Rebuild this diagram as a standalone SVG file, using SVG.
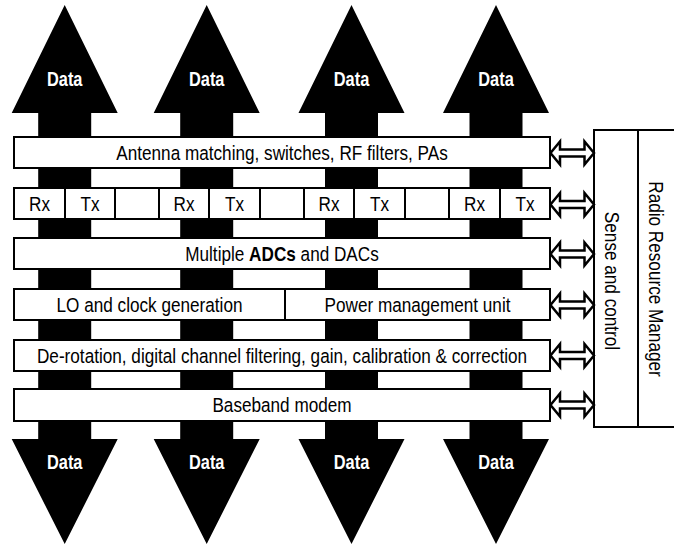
<svg xmlns="http://www.w3.org/2000/svg" width="674" height="547" viewBox="0 0 674 547">
<style>
.box{fill:#fff;stroke:#000;stroke-width:2}
.t{font-family:"Liberation Sans",Arial,sans-serif;font-size:19.5px;fill:#000;text-anchor:middle}
.d{font-family:"Liberation Sans",Arial,sans-serif;font-size:20px;font-weight:bold;fill:#fff;text-anchor:middle}
.big{fill:#000}
.dbl{fill:#fff;stroke:#000;stroke-width:2.5;stroke-linejoin:miter}
</style>
<defs>
<path id="bigarrow" d="M0,5 L53,113 L26.5,113 L26.5,439 L53,439 L0,544 L-53,439 L-26.5,439 L-26.5,113 L-53,113 Z"/>
<path id="dblarrow" d="M550.5,0 L560,-11.5 L560,-3.5 L584.5,-3.5 L584.5,-11.5 L594,0 L584.5,11.5 L584.5,3.5 L560,3.5 L560,11.5 Z"/>
</defs>
<g id="data-arrows" class="big">
<g id="data1"><use href="#bigarrow" x="64.7"/><text class="d" transform="translate(64.7,86) scale(0.82,1)">Data</text><text class="d" transform="translate(64.7,469) scale(0.82,1)">Data</text></g>
<g id="data2"><use href="#bigarrow" x="206.7"/><text class="d" transform="translate(206.7,86) scale(0.82,1)">Data</text><text class="d" transform="translate(206.7,469) scale(0.82,1)">Data</text></g>
<g id="data3"><use href="#bigarrow" x="351.5"/><text class="d" transform="translate(351.5,86) scale(0.82,1)">Data</text><text class="d" transform="translate(351.5,469) scale(0.82,1)">Data</text></g>
<g id="data4"><use href="#bigarrow" x="496"/><text class="d" transform="translate(496,86) scale(0.82,1)">Data</text><text class="d" transform="translate(496,469) scale(0.82,1)">Data</text></g>
</g>
<g id="antenna"><rect class="box" x="14" y="137" width="536" height="31"/><text class="t" transform="translate(282,160) scale(0.88,1)">Antenna matching, switches, RF filters, PAs</text></g>
<g id="rxtx">
<rect class="box" x="14" y="188" width="51" height="31"/><text class="t" transform="translate(39.5,210.5) scale(0.88,1)">Rx</text>
<rect class="box" x="65" y="188" width="50" height="31"/><text class="t" transform="translate(90,210.5) scale(0.88,1)">Tx</text>
<rect class="box" x="115" y="188" width="44" height="31"/>
<rect class="box" x="159" y="188" width="50" height="31"/><text class="t" transform="translate(184,210.5) scale(0.88,1)">Rx</text>
<rect class="box" x="209" y="188" width="51" height="31"/><text class="t" transform="translate(234.5,210.5) scale(0.88,1)">Tx</text>
<rect class="box" x="260" y="188" width="44" height="31"/>
<rect class="box" x="304" y="188" width="50" height="31"/><text class="t" transform="translate(329,210.5) scale(0.88,1)">Rx</text>
<rect class="box" x="354" y="188" width="51" height="31"/><text class="t" transform="translate(379.5,210.5) scale(0.88,1)">Tx</text>
<rect class="box" x="405" y="188" width="44" height="31"/>
<rect class="box" x="449" y="188" width="51" height="31"/><text class="t" transform="translate(474.5,210.5) scale(0.88,1)">Rx</text>
<rect class="box" x="500" y="188" width="50" height="31"/><text class="t" transform="translate(525,210.5) scale(0.88,1)">Tx</text>
</g>
<g id="adcs"><rect class="box" x="14" y="238" width="536" height="31"/><text class="t" transform="translate(282,260.5) scale(0.88,1)">Multiple <tspan font-weight="bold">ADCs</tspan> and DACs</text></g>
<g id="lo"><rect class="box" x="14" y="289" width="271" height="31"/><text class="t" transform="translate(149.5,311.5) scale(0.88,1)">LO and clock generation</text></g>
<g id="pmu"><rect class="box" x="285" y="289" width="265" height="31"/><text class="t" transform="translate(417.5,311.5) scale(0.88,1)">Power management unit</text></g>
<g id="derotation"><rect class="box" x="14" y="340" width="536" height="31"/><text class="t" transform="translate(282,362.5) scale(0.88,1)">De-rotation, digital channel filtering, gain, calibration &amp; correction</text></g>
<g id="baseband"><rect class="box" x="14" y="389" width="536" height="32"/><text class="t" transform="translate(282,412) scale(0.88,1)">Baseband modem</text></g>
<g id="sense"><rect class="box" x="594" y="130" width="44" height="297"/><text class="t" transform="translate(605,281) rotate(90) scale(0.88,1)">Sense and control</text></g>
<g id="rrm"><rect class="box" x="638" y="130" width="50" height="297"/><text class="t" transform="translate(649,279) rotate(90) scale(0.88,1)">Radio Resource Manager</text></g>
<g id="connectors">
<use href="#dblarrow" class="dbl" y="153"/>
<use href="#dblarrow" class="dbl" y="204.5"/>
<use href="#dblarrow" class="dbl" y="254"/>
<use href="#dblarrow" class="dbl" y="305"/>
<use href="#dblarrow" class="dbl" y="355.5"/>
<use href="#dblarrow" class="dbl" y="405"/>
</g>
</svg>
